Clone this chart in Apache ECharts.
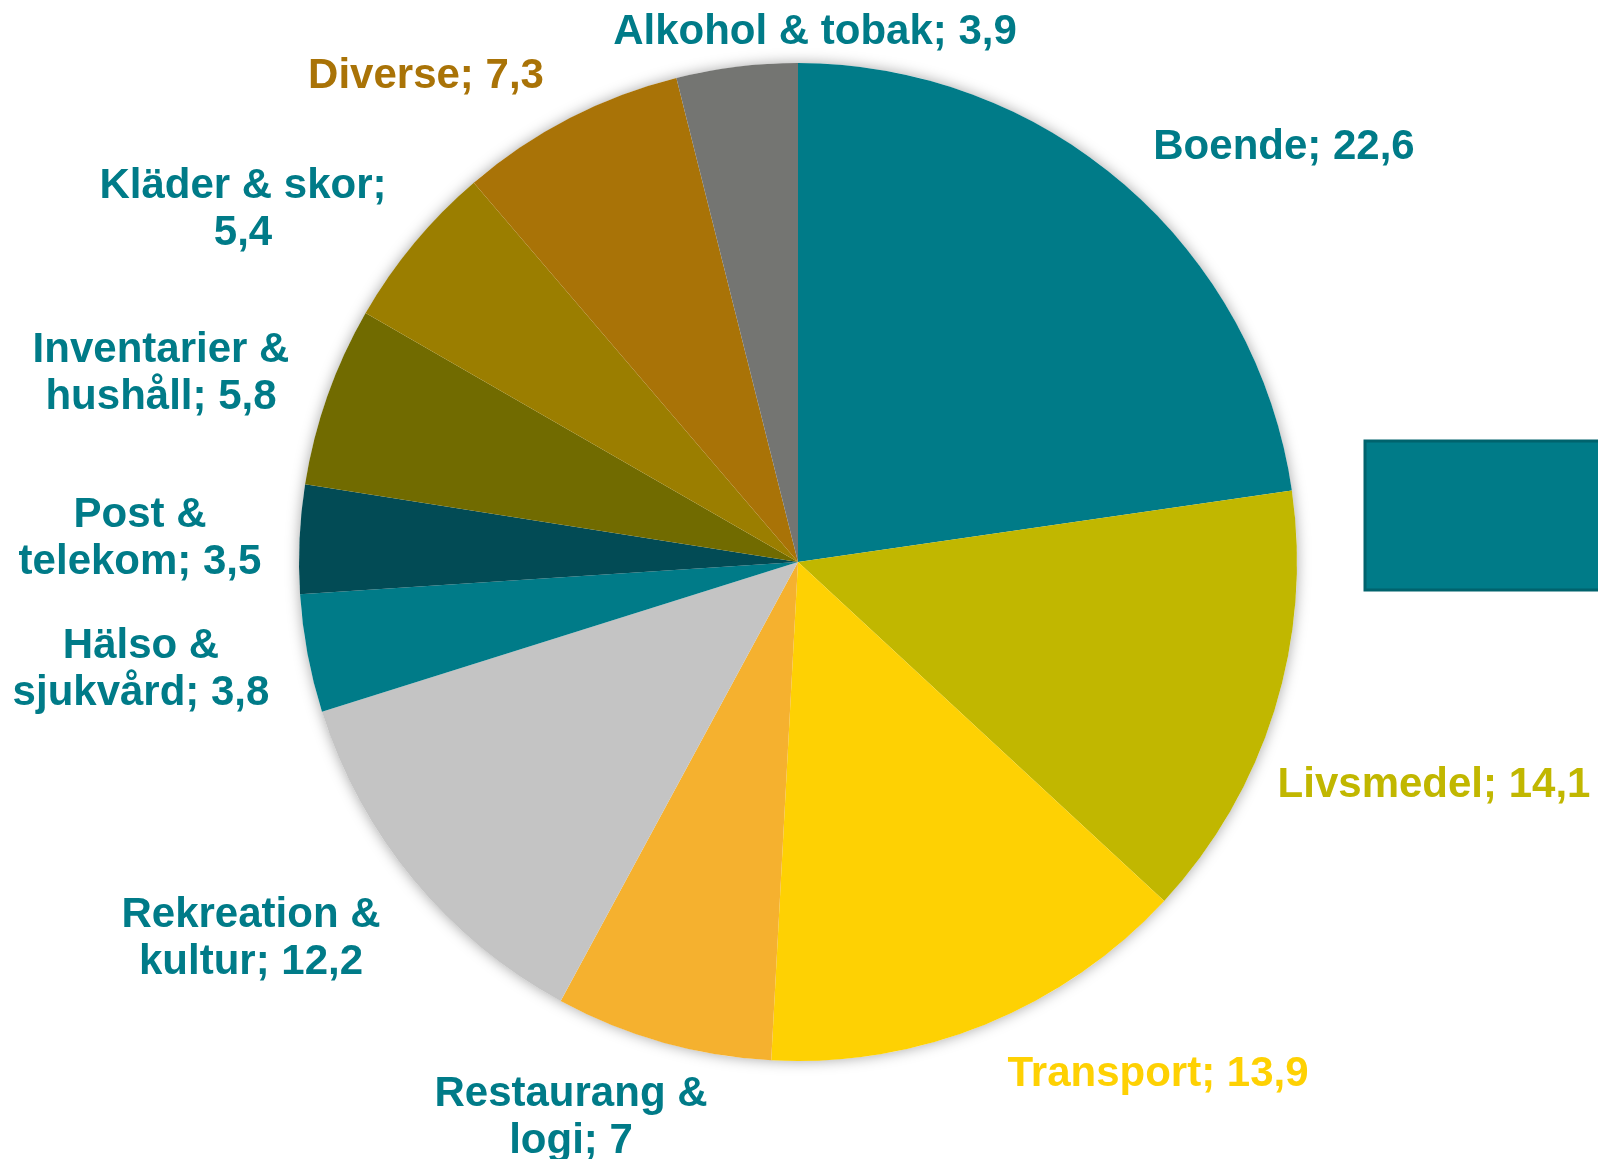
<!DOCTYPE html>
<html>
<head>
<meta charset="utf-8">
<script src="https://cdn.jsdelivr.net/npm/echarts@6/dist/echarts.min.js"></script>
<style>
  html, body { margin: 0; padding: 0; background: #fff; }
  #chart { width: 1598px; height: 1159px; }
</style>
</head>
<body>
<div id="chart"></div>
<script>
// kategorier, medurs från klockan 12
var categories = ['Boende', 'Livsmedel', 'Transport', 'Restaurang & logi', 'Rekreation & kultur',
  'Hälso & sjukvård', 'Post & telekom', 'Inventarier & hushåll', 'Kläder & skor', 'Diverse', 'Alkohol & tobak']
var values = [22.6, 14.1, 13.9, 7, 12.2, 3.8, 3.5, 5.8, 5.4, 7.3, 3.9]
// etikettext med radbrytningar
var labelNames = ['Boende;', 'Livsmedel;', 'Transport;', 'Restaurang &\nlogi;', 'Rekreation &\nkultur;',
  'Hälso &\nsjukvård;', 'Post &\ntelekom;', 'Inventarier &\nhushåll;', 'Kläder & skor;\n', 'Diverse;', 'Alkohol & tobak;']

var sliceColors = ['#007B88', '#C1B700', '#FED103', '#F5B12F', '#C4C4C4',
  '#007B88', '#024B55', '#716B00', '#9B7E00', '#A97307', '#747572']
var teal = '#007B88'
var labelColors = [teal, '#C1B700', '#FED103', teal, teal, teal, teal, teal, teal, '#A97307', teal]
// etikettpositioner (mitt på texten)
var labelPos = [[1284, 147], [1434, 785], [1158, 1074], [571, 1118], [251, 939],
  [141, 670], [140, 539], [161, 374], [243, 210], [426, 76], [815, 32]]

var chart = echarts.init(document.getElementById('chart'))

var option = {
  backgroundColor: '#fff',
  animation: false,
  graphic: [{
    type: 'rect',
    shape: { x: 1365, y: 441, width: 260, height: 149 },
    style: { fill: '#007B88', stroke: '#00636D', lineWidth: 3 }
  }],
  series: [
    {
      // skugga bakom cirkeln
      type: 'pie',
      silent: true,
      center: [798, 562],
      radius: 499,
      z: 1,
      label: { show: false },
      labelLine: { show: false },
      itemStyle: {
        color: '#fff',
        shadowBlur: 14,
        shadowColor: 'rgba(0,0,0,0.35)'
      },
      data: [{ value: 1, name: '' }]
    },
    {
      type: 'pie',
      center: [798, 562],
      radius: 499,
      startAngle: 90,
      clockwise: true,
      z: 2,
      data: categories.map(function (c, i) {
        return {
          name: c,
          value: values[i],
          itemStyle: { color: sliceColors[i] },
          label: { color: labelColors[i] }
        }
      }),
      label: {
        show: true,
        position: 'outside',
        alignTo: 'none',
        overflow: 'none',
        width: 600,
        fontFamily: 'Liberation Sans, Arial, sans-serif',
        fontWeight: 'bold',
        fontSize: 42,
        lineHeight: 47,
        align: 'center',
        formatter: function (p) {
          var t = labelNames[p.dataIndex]
          var v = String(values[p.dataIndex]).replace('.', ',')
          return t.charAt(t.length - 1) === '\n' ? t + v : t + ' ' + v
        }
      },
      labelLine: { show: false },
      labelLayout: function (params) {
        var pos = labelPos[params.dataIndex]
        return { x: pos[0], y: pos[1], align: 'center', verticalAlign: 'middle' }
      }
    }
  ]
}
chart.setOption(option)
</script>
</body>
</html>
